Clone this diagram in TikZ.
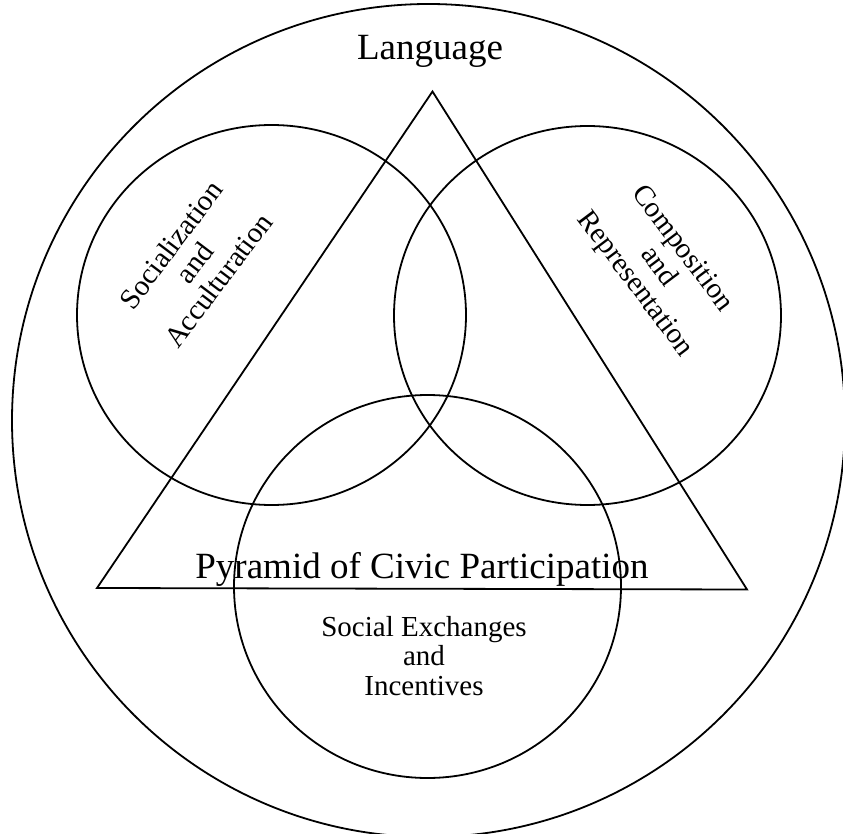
\documentclass[tikz,border=0pt]{standalone}
\usepackage{fontspec}
\setmainfont{Liberation Serif}
\begin{document}
\begin{tikzpicture}[x=1pt,y=-1pt,
  outline/.style={line width=1.8pt, line join=miter},
  bigtitle/.style={font=\fontsize{37}{40}\selectfont, inner sep=0pt},
  smalllabel/.style={font=\fontsize{29}{29.5}\selectfont, align=center, inner sep=0pt}]
  \useasboundingbox (0,0) rectangle (843,834);

  % outer circle: language
  \draw[outline] (428.5,420.5) circle[radius=416.5];

  % the pyramid
  \draw[outline] (432.5,91.5) -- (97,588) -- (747,589.5) -- cycle;

  % the three overlapping circles
  \draw[outline] (271.5,315) ellipse[x radius=194.5, y radius=190];
  \draw[outline] (587.5,315.5) ellipse[x radius=193.5, y radius=189.5];
  \draw[outline] (427.5,586.5) ellipse[x radius=193.5, y radius=191.5];

  % labels
  \node[bigtitle, anchor=base] (language) at (430,60) {Language};
  \node[bigtitle, anchor=base] (pyramid) at (422,578.5) {Pyramid of Civic Participation};
  \node[smalllabel, rotate=53] (social) at (194.5,262.5) {Socialization\\and\\Acculturation};
  \node[smalllabel, rotate=-53] (compo) at (658,267) {Composition\\and\\Representation};
  \node[smalllabel] (exchange) at (424,656) {Social Exchanges\\and\\Incentives};
\end{tikzpicture}
\end{document}
